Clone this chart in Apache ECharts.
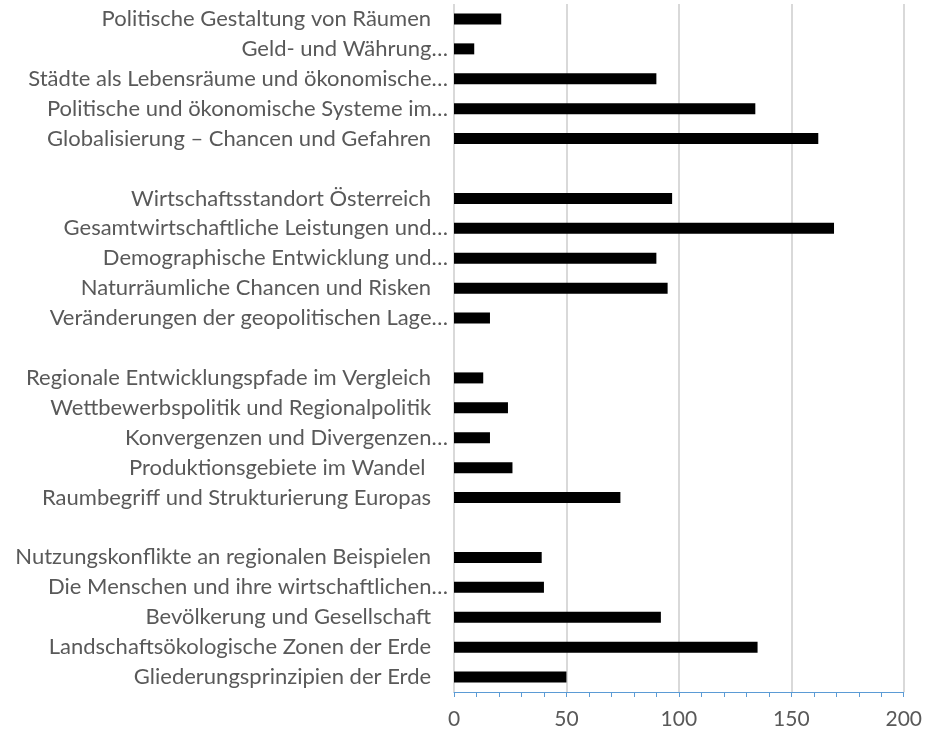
<!DOCTYPE html>
<html>
<head>
<meta charset="utf-8">
<script src="https://cdn.jsdelivr.net/npm/echarts@6/dist/echarts.min.js"></script>
<style>
  html, body { margin: 0; padding: 0; background: #fff; }
  #chart { width: 925px; height: 735px; }
</style>
</head>
<body>
<div id="chart"></div>
<script>
// Themen von oben nach unten; leere Einträge sind die Lücken zwischen den Gruppen
const categories = [
  'Politische Gestaltung von Räumen   ',
  'Geld- und Währung…',
  'Städte als Lebensräume und ökonomische…',
  'Politische und ökonomische Systeme im…',
  'Globalisierung – Chancen und Gefahren   ',
  '',
  'Wirtschaftsstandort Österreich   ',
  'Gesamtwirtschaftliche Leistungen und…',
  'Demographische Entwicklung und…',
  'Naturräumliche Chancen und Risken   ',
  'Veränderungen der geopolitischen Lage…',
  ' ',
  'Regionale Entwicklungspfade im Vergleich   ',
  'Wettbewerbspolitik und Regionalpolitik   ',
  'Konvergenzen und Divergenzen…',
  'Produktionsgebiete im Wandel    ',
  'Raumbegriff und Strukturierung Europas   ',
  '  ',
  'Nutzungskonflikte an regionalen Beispielen   ',
  'Die Menschen und ihre wirtschaftlichen…',
  'Bevölkerung und Gesellschaft   ',
  'Landschaftsökologische Zonen der Erde   ',
  'Gliederungsprinzipien der Erde   '
]
const values = [
  21, 9, 90, 134, 162,
  null,
  97, 169, 90, 95, 16,
  null,
  13, 24, 16, 26, 74,
  null,
  39, 40, 92, 135, 50
]
const xTicks = [0, 50, 100, 150, 200]

const labelColor = '#595959'
const fontFamily = 'Lato, Calibri, sans-serif'

const option = {
  animation: false,
  grid: {
    left: 454,
    right: 20,
    top: 4,
    bottom: 43
  },
  xAxis: {
    type: 'value',
    min: xTicks[0],
    max: xTicks[xTicks.length - 1],
    interval: 50,
    axisLine: {
      show: true,
      lineStyle: { color: '#5b9bd5', width: 1 }
    },
    axisTick: {
      show: true,
      length: 5,
      lineStyle: { color: '#5b9bd5' }
    },
    minorTick: {
      show: true,
      splitNumber: 5,
      length: 5,
      lineStyle: { color: '#5b9bd5' }
    },
    splitLine: {
      show: true,
      lineStyle: { color: '#d9d9d9', width: 2 }
    },
    axisLabel: {
      color: labelColor,
      fontSize: 21,
      fontFamily: fontFamily,
      margin: 17
    }
  },
  yAxis: {
    type: 'category',
    inverse: true,
    data: categories,
    axisLine: { show: false },
    axisTick: { show: false },
    axisLabel: {
      color: labelColor,
      fontSize: 22,
      fontFamily: fontFamily,
      margin: 6,
      interval: 0
    }
  },
  series: [{
    type: 'bar',
    data: values,
    barWidth: 11,
    itemStyle: { color: '#000000' }
  }]
}

const myChart = echarts.init(document.getElementById('chart'))
myChart.setOption(option)
</script>
</body>
</html>
